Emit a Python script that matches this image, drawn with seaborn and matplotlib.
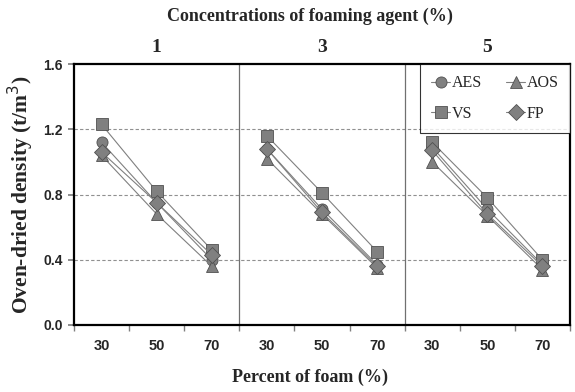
import numpy as np
import pandas as pd
import seaborn as sns
import matplotlib
matplotlib.use("Agg")
import matplotlib.pyplot as plt

# ---- data ----
concentrations = ["1", "3", "5"]
foam_pct = ["30", "50", "70"]
agents = ["AES", "AOS", "VS", "FP"]
AES = [1.12, 0.75, 0.40, 1.08, 0.71, 0.37, 1.09, 0.71, 0.37]
AOS = [1.04, 0.68, 0.36, 1.02, 0.68, 0.35, 1.00, 0.67, 0.34]
VS = [1.23, 0.82, 0.46, 1.16, 0.81, 0.45, 1.12, 0.78, 0.40]
FP = [1.06, 0.75, 0.43, 1.08, 0.69, 0.36, 1.07, 0.68, 0.36]
yticks = [0.0, 0.4, 0.8, 1.2, 1.6]

series = {"AES": AES, "AOS": AOS, "VS": VS, "FP": FP}
rows = []
for ag in agents:
    for i, v in enumerate(series[ag]):
        rows.append({"agent": ag, "panel": i // 3, "pos": i, "density": v})
df = pd.DataFrame(rows)

sns.set_theme(style="white")
plt.rcParams["font.family"] = ["Liberation Serif", "DejaVu Serif"]

fig = plt.figure(figsize=(5.75, 3.92), dpi=100)
ax = fig.add_axes([74/575, 1-325/392, (570-74)/575, (325-64)/392])

markers = {"AES": "o", "AOS": "^", "VS": "s", "FP": "D"}
palette = {a: "#808080" for a in agents}
sns.lineplot(data=df, x="pos", y="density", hue="agent", style="agent",
             units="panel", estimator=None, markers=markers, dashes=False,
             palette=palette, hue_order=agents, style_order=agents,
             linewidth=0.8, markersize=8, markeredgecolor="#505050",
             markeredgewidth=0.6, ax=ax, legend=True, sort=False)

ax.set_xlim(-0.5, 8.5)
ax.set_ylim(0, 1.6)
ax.set_yticks(yticks)
ax.set_yticklabels([f"{t:.1f}" for t in yticks], family="Liberation Sans",
                   fontweight="bold", fontsize=10)
ax.set_xticks(range(9))
ax.set_xticklabels(foam_pct * 3, family="Liberation Sans", fontweight="bold", fontsize=10.5)
ax.tick_params(axis="x", length=0, pad=10)
ax.set_xticks(np.arange(-0.5, 9, 1), minor=True)
ax.tick_params(axis="x", which="minor", length=4, direction="out", color="#808080", bottom=True)
ax.tick_params(axis="y", length=4, direction="out", left=True, color="#808080", pad=4)

for y in [0.4, 0.8, 1.2]:
    ax.axhline(y, color="#909090", linestyle=(0, (3, 2)), linewidth=0.8, zorder=0)
for x in [2.5, 5.5]:
    ax.axvline(x, color="#707070", linewidth=0.9, zorder=0)

for s in ax.spines.values():
    s.set_color("black")
    s.set_linewidth(1.6)

ax.set_xlabel("")
ax.set_ylabel("Oven-dried density (t/m$^3$)", fontsize=15.5, fontweight="bold", labelpad=5)

for i, c in enumerate(concentrations):
    ax.text(3 * i + 1, 1.65, c, ha="center", va="bottom", fontsize=14, fontweight="bold",
            transform=ax.transData)
fig.text(310/575, 1 - 16/392, "Concentrations of foaming agent (%)", ha="center", va="center",
         fontsize=13, fontweight="bold")
fig.text(310/575, 1 - 377/392, "Percent of foam (%)", ha="center", va="center",
         fontsize=13, fontweight="bold")

handles, labels = ax.get_legend_handles_labels()
hmap = dict(zip(labels, handles))
order = ["AES", "VS", "AOS", "FP"]
leg = ax.legend([hmap[k] for k in order], order, ncol=2, loc="upper right",
                bbox_to_anchor=(1.0, 1.0), borderaxespad=0.0, frameon=True, fancybox=False,
                edgecolor="black", fontsize=11.5, handlelength=1.2, handletextpad=0.1,
                columnspacing=1.5, labelspacing=0.9, borderpad=0.7)
leg.get_frame().set_linewidth(0.8)

fig.savefig("out.png", dpi=100, facecolor="white")
